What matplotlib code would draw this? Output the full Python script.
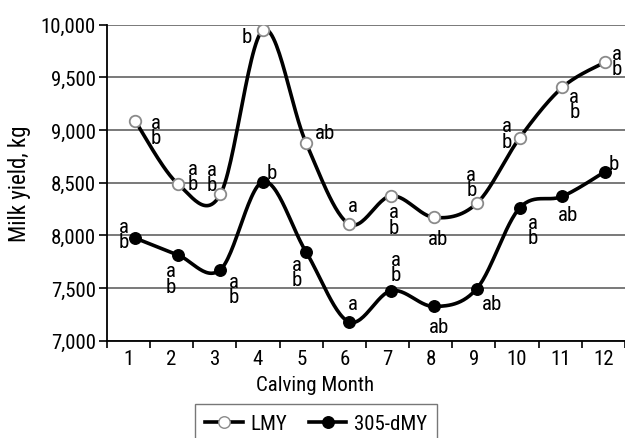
import numpy as np
import matplotlib
matplotlib.use("Agg")
import matplotlib.pyplot as plt
from matplotlib.lines import Line2D

months = list(range(1, 13))
month_labels = [str(m) for m in months]
lmy = [9090, 8490, 8390, 9950, 8880, 8110, 8375, 8170, 8305, 8925, 9405, 9645]
dmy = [7975, 7815, 7675, 8510, 7845, 7180, 7475, 7325, 7495, 8260, 8370, 8605]
lmy_letters = ["a\nb", "a\nb", "a\nb", "b", "ab", "a", "a\nb", "ab", "a\nb", "a\nb", "a\nb", "a\nb"]
dmy_letters = ["a\nb", "a\nb", "a\nb", "b", "a\nb", "a", "a\nb", "ab", "ab", "a\nb", "ab", "b"]

plt.rcParams['font.family'] = ['Roboto Condensed', 'DejaVu Sans']

def catmull(x, y, n=30):
    x = np.asarray(x, float); y = np.asarray(y, float)
    px = np.concatenate([[x[0]], x, [x[-1]]])
    py = np.concatenate([[y[0]], y, [y[-1]]])
    xs, ys = [], []
    t = np.linspace(0, 1, n)
    for i in range(1, len(px) - 2):
        p0, p1, p2, p3 = [np.array([px[j], py[j]]) for j in (i - 1, i, i + 1, i + 2)]
        c1 = p1 + (p2 - p0) / 6
        c2 = p2 - (p3 - p1) / 6
        b = ((1 - t) ** 3)[:, None] * p1 + (3 * (1 - t) ** 2 * t)[:, None] * c1 + \
            (3 * (1 - t) * t ** 2)[:, None] * c2 + (t ** 3)[:, None] * p2
        xs.append(b[:, 0]); ys.append(b[:, 1])
    return np.concatenate(xs), np.concatenate(ys)

fig = plt.figure(figsize=(6.25, 4.39), dpi=100)
ax = fig.add_axes([0.171, 0.2216, 0.829, 0.72])
ax.set_xlim(0.5, 12.5)
ax.set_ylim(7000, 10000)

sy = 12.0 / 3000 * (0.72 * 439) / (0.829 * 625)
xp = np.array(months, float) + np.linspace(0.15, 0.04, 12)
for vals in (lmy, dmy):
    cx, cy = catmull(xp, np.array(vals) * sy)
    ax.plot(cx, cy / sy, color='black', lw=2.6, zorder=3, solid_capstyle='round')
ax.plot(xp, lmy, 'o', ms=8.3, mfc='white', mec='#8a8a8a', mew=1.3, zorder=4)
ax.plot(xp, dmy, 'o', ms=8.3, mfc='black', mec='black', zorder=4)

lmy_off = [(15, -7), (11, 5.4), (-6.5, 12.6), (-11.5, -5), (13.7, 7.2), (3, 13),
           (1.5, -17), (3, -15), (-4, 15.5), (-9.4, 3.2), (8.6, -12.2), (8.6, 1)]
dmy_off = [(-8, 3), (-5, -17), (9.4, -14), (6.5, 6.5), (-6.5, -14.8), (3, 13),
           (3, 17), (3.6, -14.4), (10.8, -10.8), (9.4, -15.8), (4.3, -13), (6.5, 5.8)]
for xi, v, s, o in zip(xp, lmy, lmy_letters, lmy_off):
    ax.annotate(s, (xi, v), xytext=o, textcoords='offset points', ha='center', va='center',
                fontsize=15, linespacing=0.75, zorder=5)
for xi, v, s, o in zip(xp, dmy, dmy_letters, dmy_off):
    ax.annotate(s, (xi, v), xytext=o, textcoords='offset points', ha='center', va='center',
                fontsize=15, linespacing=0.75, zorder=5)

ax.set_yticks(np.arange(7000, 10001, 500))
ax.set_yticklabels([f"{v:,}" for v in range(7000, 10001, 500)], fontsize=15)
ax.set_xticks(months)
ax.set_xticklabels(month_labels, fontsize=15)
ax.set_xticks(np.arange(0.5, 12.6, 1), minor=True)
ax.tick_params(axis='x', which='major', length=0, pad=6)
ax.tick_params(axis='x', which='minor', length=5, width=1.2, direction='out')
ax.tick_params(axis='y', length=6, width=1.2, pad=2)
ax.yaxis.grid(True, color='#555555', lw=1.1)
ax.set_axisbelow(True)
for s in ('top', 'right'):
    ax.spines[s].set_visible(False)
ax.spines['left'].set_linewidth(1.3)
ax.spines['bottom'].set_linewidth(1.3)
ax.set_xlabel("Calving Month", fontsize=15)
ax.xaxis.set_label_coords(0.402, -0.108)
ax.set_ylabel("Milk yield, kg", fontsize=16.5, labelpad=7)

h1 = Line2D([], [], color='black', lw=2.6, marker='o', ms=8.3, mfc='white', mec='#8a8a8a')
h2 = Line2D([], [], color='black', lw=2.6, marker='o', ms=8.3, mfc='black', mec='black')
leg = fig.legend([h1, h2], ["LMY", "305-dMY"], loc='upper center', bbox_to_anchor=(0.5056, 0.0774),
                 borderaxespad=0, ncol=2, fontsize=15, frameon=True, fancybox=False,
                 edgecolor='#555555', handlelength=1.8, handletextpad=0.35, columnspacing=1.05,
                 borderpad=0.5)
leg.get_frame().set_linewidth(1.0)

fig.savefig("out.png", dpi=100)
